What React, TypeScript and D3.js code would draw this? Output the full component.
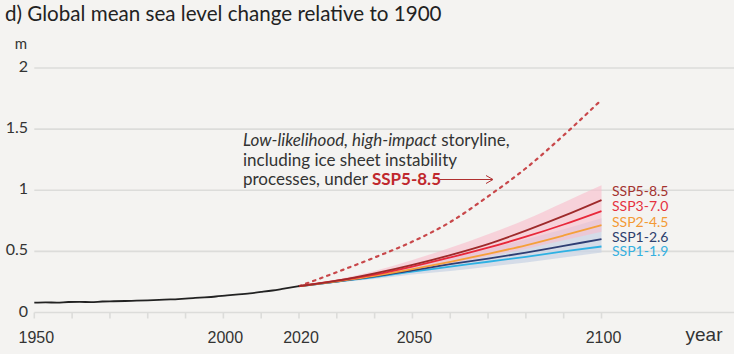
import * as d3 from "d3";
import React from "react";

// historical GMSL relative to 1900 (m)
const histYears = [1950, 1953, 1956, 1959, 1962, 1965, 1968, 1971, 1974, 1977, 1980, 1983, 1986, 1989, 1992, 1995, 1998, 2001, 2004, 2007, 2010, 2013, 2016, 2020];
const histValues = [0.08, 0.083, 0.081, 0.086, 0.087, 0.085, 0.09, 0.092, 0.094, 0.097, 0.1, 0.104, 0.107, 0.112, 0.118, 0.124, 0.131, 0.14, 0.148, 0.157, 0.168, 0.18, 0.195, 0.215];

// projections
const projYears = [2020, 2030, 2040, 2050, 2060, 2070, 2080, 2090, 2100];
const scenarios = ["SSP5-8.5", "SSP3-7.0", "SSP2-4.5", "SSP1-2.6", "SSP1-1.9"];
const ssp585 = [0.215, 0.26, 0.32, 0.39, 0.47, 0.56, 0.67, 0.79, 0.92];
const ssp370 = [0.215, 0.26, 0.31, 0.375, 0.45, 0.53, 0.62, 0.72, 0.83];
const ssp245 = [0.215, 0.255, 0.3, 0.355, 0.415, 0.48, 0.55, 0.63, 0.715];
const ssp126 = [0.215, 0.253, 0.295, 0.345, 0.395, 0.44, 0.49, 0.545, 0.6];
const ssp119 = [0.215, 0.252, 0.29, 0.335, 0.375, 0.415, 0.455, 0.5, 0.54];
const highLow = [0.215, 0.25, 0.29, 0.34, 0.4, 0.46, 0.52, 0.59, 0.66];
const highHigh = [0.215, 0.27, 0.34, 0.43, 0.53, 0.64, 0.76, 0.9, 1.04];
const lowLow = [0.215, 0.245, 0.275, 0.31, 0.34, 0.375, 0.41, 0.45, 0.49];
const lowHigh = [0.215, 0.26, 0.315, 0.38, 0.45, 0.52, 0.6, 0.68, 0.77];
const storyline = [0.215, 0.33, 0.45, 0.58, 0.74, 0.95, 1.18, 1.45, 1.74];

const yTicks = [0, 0.5, 1, 1.5, 2];
const xTicks = d3.range(1950, 2101, 10);
const xLabels = [1950, 2000, 2020, 2050, 2100];

const lineColors = ["#9e2a2b", "#e8283a", "#f5a03a", "#2f3e73", "#2eb1e3"];
const labelColors = ["#a3322f", "#e5323f", "#f39a35", "#2e3f6e", "#36b0e0"];

const W = 734;
const H = 354;

export default function App() {
  const x = d3.scaleLinear().domain([1950, 2100]).range([34.3, 601.5]);
  const y = d3.scaleLinear().domain([0, 2]).range([312.5, 68]);

  const line = d3
    .line<[number, number]>()
    .x((d) => x(d[0]))
    .y((d) => y(d[1]))
    .curve(d3.curveMonotoneX);

  const area = (lo: number[], hi: number[]) =>
    d3
      .area<number>()
      .x((_, i) => x(projYears[i]))
      .y0((_, i) => y(lo[i]))
      .y1((_, i) => y(hi[i]))
      .curve(d3.curveMonotoneX)(projYears) as string;

  const series = [ssp585, ssp370, ssp245, ssp126, ssp119];
  const zip = (vals: number[], yrs: number[]) => yrs.map((yr, i) => [yr, vals[i]] as [number, number]);
  const labelY = [191, 206, 222, 237, 251];

  const grid = "#dcdcda";
  const font = "Lato, 'Open Sans', sans-serif";

  return (
    <svg width={W} height={H} style={{ position: "absolute", left: 0, top: 0 }}>
      <rect width={W} height={H} fill="#f4f3f1" />
      <text x={5} y={21} fontFamily={font} fontSize={20.6} fill="#222">
        d) Global mean sea level change relative to 1900
      </text>
      <text x={21} y={49} fontFamily={font} fontSize={15} fill="#333" textAnchor="middle">
        m
      </text>

      {/* grid + y labels */}
      {yTicks.map((t) => (
        <g key={t}>
          {t > 0 && <line x1={x(1950)} x2={W} y1={y(t)} y2={y(t)} stroke={grid} strokeWidth={1.6} />}
          <text x={28} y={y(t) + 4} textAnchor="end" fontFamily={font} fontSize={16} fill="#333">
            {t}
          </text>
        </g>
      ))}

      {/* x axis */}
      <line x1={x(1950)} x2={W} y1={y(0)} y2={y(0)} stroke={grid} strokeWidth={1.6} />
      {xTicks.map((t) => (
        <line key={t} x1={x(t)} x2={x(t)} y1={y(0)} y2={y(0) + 6} stroke={grid} strokeWidth={1.6} />
      ))}
      {xLabels.map((t) => (
        <text key={t} x={x(t) + 2} y={343} textAnchor="middle" fontFamily="'Liberation Sans', Arial, sans-serif" fontSize={16} fill="#333">
          {t}
        </text>
      ))}
      <text x={704} y={341} textAnchor="middle" fontFamily="'Liberation Sans', Arial, sans-serif" fontSize={19} fill="#333">
        year
      </text>

      {/* uncertainty bands */}
      <path d={area(lowLow, lowHigh)} fill="#cbd4e4" opacity={0.75} />
      <path d={area(highLow, highHigh)} fill="#f9bccb" opacity={0.6} />

      {/* storyline */}
      <path d={line(zip(storyline, projYears)) as string} fill="none" stroke="#c8474a" strokeWidth={2.2} strokeDasharray="2.5 5" strokeLinecap="round" />

      {/* scenario lines */}
      {series.slice().reverse().map((s, ri) => {
        const i = series.length - 1 - ri;
        return <path key={i} d={line(zip(s, projYears)) as string} fill="none" stroke={lineColors[i]} strokeWidth={1.8} />;
      })}

      {/* historical */}
      <path d={line(zip(histValues, histYears)) as string} fill="none" stroke="#222" strokeWidth={1.8} />

      {/* scenario labels */}
      {scenarios.map((s, i) => (
        <text key={s} x={612} y={labelY[i] + 5} fontFamily={font} fontSize={14} fill={labelColors[i]}>
          {s}
        </text>
      ))}

      {/* annotation */}
      <g fontFamily={font} fontSize={17} fill="#333">
        <text x={243} y={146}>
          <tspan fontStyle="italic">Low-likelihood, high-impact</tspan> storyline,
        </text>
        <text x={243} y={165.5}>including ice sheet instability</text>
        <text x={243} y={185}>
          processes, under{" "}
          <tspan fill="#c0282d" fontWeight="bold">
            SSP5-8.5
          </tspan>
        </text>
      </g>
      <line x1={440} x2={492} y1={179.5} y2={179.5} stroke="#b03030" strokeWidth={1} />
      <path d="M486,175.5 L493,179.5 L486,183.5" fill="none" stroke="#b03030" strokeWidth={1} />
    </svg>
  );
}
